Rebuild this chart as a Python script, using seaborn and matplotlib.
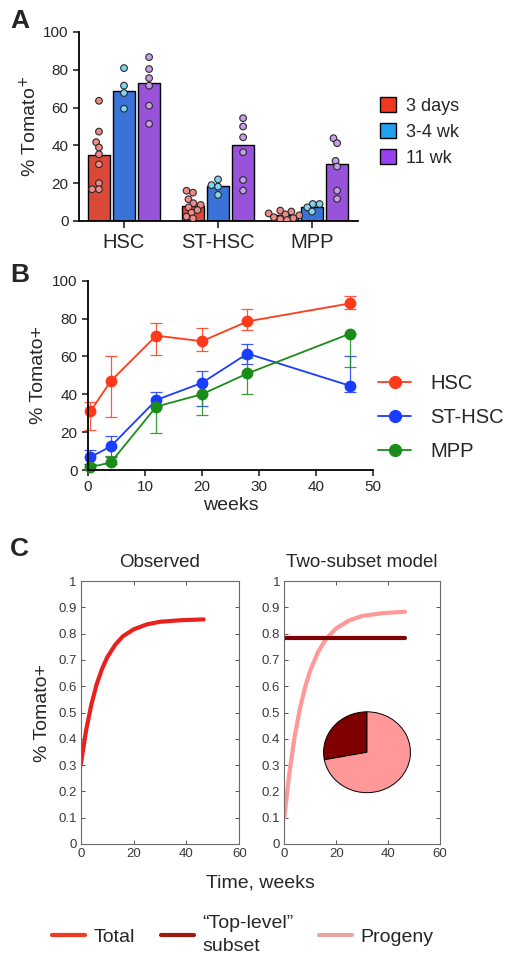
import matplotlib
matplotlib.use('Agg')
import matplotlib.pyplot as plt
import seaborn as sns
import numpy as np
import pandas as pd
from matplotlib.patches import Patch
from matplotlib.lines import Line2D

sns.set_style('ticks')
plt.rcParams['font.family'] = ['Liberation Sans', 'DejaVu Sans']

# ---- Panel A data ----
groups = ['HSC', 'ST-HSC', 'MPP']
timepoints = ['3 days', '3-4 wk', '11 wk']
bar_3d = [35, 8, 3]
bar_34 = [69, 18.5, 7.5]
bar_11 = [73, 40, 30]

hsc_3d = [63.6, 47.3, 41.7, 38.9, 35.3, 30.0, 20.0, 16.8, 16.8]
hsc_34 = [80.9, 71.6, 67.7, 59.4]
hsc_11 = [86.7, 80.4, 75.6, 71.6, 61.0, 51.4]
st_3d = [16.0, 15.0, 11.5, 9.4, 8.5, 7.2, 5.8, 4.4, 2.3, 1.4]
st_34 = [22.0, 19.0, 18.2, 13.8]
st_11 = [54.4, 50.0, 44.3, 36.4, 21.7, 16.1]
mpp_3d = [5.5, 5.0, 4.0, 3.5, 3.0, 2.0, 1.5, 1.0, 0.5]
mpp_34 = [9.0, 9.0, 7.2, 5.0]
mpp_11 = [43.8, 41.2, 31.8, 28.8, 16.1, 11.7]

# ---- Panel B data ----
weeks = [0.43, 4, 12, 20, 28, 46]
hsc_mean = [31, 47, 71, 68, 78.5, 88]
hsc_lo = [21, 28, 61, 63, 74, 85]
hsc_hi = [36, 60, 77.5, 75, 85, 92]
st_mean = [6.8, 12.5, 37, 46, 61.5, 44.5]
st_lo = [3, 7, 34, 34, 56, 41]
st_hi = [10.5, 18, 41, 52.5, 66.5, 60]
mpp_mean = [1.5, 4, 33.5, 40, 51, 72]
mpp_lo = [0.5, 3, 19.5, 29, 40, 54.6]
mpp_hi = [3, 7.5, 33.5, 40, 59, 72]

# ---- Panel C data ----
t_obs = [0, 2, 4, 6, 8, 10, 13, 16, 20, 25, 30, 38, 46.5]
total_obs = [0.30, 0.43, 0.529, 0.606, 0.664, 0.709, 0.757, 0.79, 0.816, 0.835, 0.845, 0.851, 0.854]
t_model = [0, 2, 4, 6, 8, 10, 13, 16, 20, 25, 30, 38, 46.5]
progeny = [0.10, 0.274, 0.409, 0.514, 0.596, 0.66, 0.73, 0.779, 0.82, 0.85, 0.867, 0.878, 0.883]
toplevel_t = [0, 46.5]
toplevel = [0.785, 0.785]
pie_labels = ['Top-level', 'Progeny']
pie_frac = [0.28, 0.72]

W, H = 512, 967
fig = plt.figure(figsize=(W / 100, H / 100), dpi=100)


def fr(left, top, right, bottom):
    return [left / W, 1 - bottom / H, (right - left) / W, (bottom - top) / H]


# ================= Panel A =================
bar_colors = ['#f5331c', '#1f6cf2', '#9a3cf0']
dot_colors = ['#f08a86', '#7fd6f0', '#c99ee8']
leg_colors = ['#f0381e', '#22a0f0', '#9a40f0']

bars = pd.DataFrame({
    'group': groups * 3,
    'time': [tp for tp in timepoints for _ in groups],
    'pct': bar_3d + bar_34 + bar_11,
})
dot_sets = {('HSC', '3 days'): hsc_3d, ('HSC', '3-4 wk'): hsc_34, ('HSC', '11 wk'): hsc_11,
            ('ST-HSC', '3 days'): st_3d, ('ST-HSC', '3-4 wk'): st_34, ('ST-HSC', '11 wk'): st_11,
            ('MPP', '3 days'): mpp_3d, ('MPP', '3-4 wk'): mpp_34, ('MPP', '11 wk'): mpp_11}
rows = []
for (g, tp), vals in dot_sets.items():
    for v in vals:
        rows.append({'group': g, 'time': tp, 'pct': v})
dots = pd.DataFrame(rows)

axA = fig.add_axes(fr(79, 32, 358, 221))
sns.barplot(data=bars, x='group', y='pct', hue='time', order=groups, hue_order=timepoints,
            palette=bar_colors, width=0.8, gap=0.12, edgecolor='black', linewidth=1.0,
            errorbar=None, ax=axA, legend=False)
n_before = len(axA.collections)
# swarm laid out with smaller markers, then frozen and enlarged so points may overlap (Prism-like)
sns.swarmplot(data=dots, x='group', y='pct', hue='time', order=groups, hue_order=timepoints,
              palette=dot_colors, dodge=True, size=3.8, edgecolor='#2a2a2a', linewidth=0.8,
              ax=axA, legend=False, warn_thresh=1)
fig.canvas.draw()
for coll in axA.collections[n_before:]:
    if 'draw' in coll.__dict__:
        del coll.draw
    coll.set_sizes([4.8 ** 2])
    coll.set_linewidth(0.8)
    coll.set_edgecolor('#2a2a2a')
axA.set_xlim(-0.479, 2.489)
axA.set_ylim(0, 100)
axA.set_yticks([0, 20, 40, 60, 80, 100])
axA.set_xlabel('')
axA.set_ylabel('% Tomato$^{+}$', fontsize=14, labelpad=2)
axA.tick_params(axis='y', labelsize=11, length=4, width=1.2)
axA.tick_params(axis='x', labelsize=14.5, length=5, width=1.2)
for s in ['left', 'bottom']:
    axA.spines[s].set_linewidth(1.3)
    axA.spines[s].set_color('black')
sns.despine(ax=axA)
handlesA = [Patch(facecolor=c, edgecolor='black', linewidth=1.0) for c in leg_colors]
fig.legend(handlesA, timepoints, loc='upper left', bbox_to_anchor=(373 / W, 1 - 90 / H),
           frameon=False, fontsize=13, handlelength=0.9, handleheight=0.9,
           handletextpad=0.5, labelspacing=0.45, borderaxespad=0)
fig.text(10 / W, 1 - 21 / H, 'A', fontsize=19, fontweight='bold', va='center')

# ================= Panel B =================
line_colors = ['#ff3a1a', '#1a3cff', '#1a8c1a']
names = ['HSC', 'ST-HSC', 'MPP']
lineB = pd.DataFrame({
    'week': weeks * 3,
    'pct': hsc_mean + st_mean + mpp_mean,
    'pop': [n for n in names for _ in weeks],
})
axB = fig.add_axes(fr(88, 280.7, 372.7, 470))
for mean, lo, hi, c in [(hsc_mean, hsc_lo, hsc_hi, line_colors[0]),
                        (st_mean, st_lo, st_hi, line_colors[1]),
                        (mpp_mean, mpp_lo, mpp_hi, line_colors[2])]:
    m = np.array(mean)
    axB.errorbar(weeks, mean, yerr=[m - np.array(lo), np.array(hi) - m], fmt='none',
                 ecolor=c, elinewidth=0.9, capsize=4, capthick=0.9, clip_on=False, alpha=0.85)
sns.lineplot(data=lineB, x='week', y='pct', hue='pop', hue_order=names, palette=line_colors,
             marker='o', markersize=8.5, markeredgewidth=0, linewidth=1.3, ax=axB,
             legend=False, clip_on=False)
axB.set_xlim(0, 50)
axB.set_ylim(0, 100)
axB.set_xticks([0, 10, 20, 30, 40, 50])
axB.set_yticks([0, 20, 40, 60, 80, 100])
axB.set_xlabel('weeks', fontsize=14, labelpad=2)
axB.set_ylabel('% Tomato+', fontsize=14, labelpad=4)
axB.tick_params(labelsize=11, length=4, width=1.2)
for s in ['left', 'bottom']:
    axB.spines[s].set_linewidth(1.3)
    axB.spines[s].set_color('black')
sns.despine(ax=axB)
handlesB = [Line2D([], [], color=c, marker='o', markersize=8.5, linewidth=1.3) for c in line_colors]
fig.legend(handlesB, names, loc='upper left', bbox_to_anchor=(370 / W, 1 - 366 / H),
           frameon=False, fontsize=14.5, handlelength=1.65, handletextpad=0.95,
           labelspacing=0.75, borderaxespad=0)
fig.text(10 / W, 1 - 275 / H, 'B', fontsize=19, fontweight='bold', va='center')

# ================= Panel C =================
red_c = '#e8211d'
dark_c = '#800000'
pink_c = '#ff9898'


def matlab_box(ax):
    ax.set_xlim(0, 60)
    ax.set_ylim(0, 1)
    ax.set_xticks([0, 20, 40, 60])
    ax.set_yticks(np.round(np.arange(0, 1.01, 0.1), 1))
    ax.set_yticklabels(['0', '0.1', '0.2', '0.3', '0.4', '0.5', '0.6', '0.7', '0.8', '0.9', '1'])
    ax.tick_params(direction='in', top=True, right=True, length=3, width=0.7,
                   color='#555555', labelcolor='#3a3a3a', labelsize=9.5, pad=3)
    for s in ax.spines.values():
        s.set_visible(True)
        s.set_color('#6a6a6a')
        s.set_linewidth(0.8)
    ax.set_xlabel('')
    ax.set_ylabel('')


axC1 = fig.add_axes(fr(80.7, 581, 239.3, 844))
sns.lineplot(x=t_obs, y=total_obs, color=red_c, linewidth=3.0, ax=axC1)
matlab_box(axC1)
axC1.set_title('Observed', fontsize=13.5, pad=10)
axC1.set_ylabel('% Tomato+', fontsize=14, labelpad=5)

axC2 = fig.add_axes(fr(284.3, 581, 440, 844))
sns.lineplot(x=t_model, y=progeny, color=pink_c, linewidth=3.0, ax=axC2)
sns.lineplot(x=toplevel_t, y=toplevel, color=dark_c, linewidth=3.0, ax=axC2)
matlab_box(axC2)
axC2.set_title('Two-subset model', fontsize=13.5, pad=10)

# pie inset
axPie = fig.add_axes(fr(322.7, 711, 411.3, 793.5))
axPie.pie(pie_frac, colors=[dark_c, pink_c], startangle=90, counterclock=True,
          wedgeprops=dict(edgecolor='black', linewidth=0.7))
axPie.set_aspect('auto')
axPie.set_xlim(-1.02, 1.02)
axPie.set_ylim(-1.02, 1.02)
axPie.axis('off')

fig.text(260 / W, 1 - 883 / H, 'Time, weeks', fontsize=14, ha='center', va='center')
fig.text(10 / W, 1 - 549 / H, 'C', fontsize=19, fontweight='bold', va='center')

handlesC = [Line2D([], [], color='#f03a20', linewidth=3.0),
            Line2D([], [], color='#a01810', linewidth=3.0),
            Line2D([], [], color='#e8a6a2', linewidth=3.0)]
legC = fig.legend(handlesC, ['Total', '\u201cTop-level\u201d\nsubset', 'Progeny'], loc='center',
                  bbox_to_anchor=(243 / W, 1 - 935 / H), ncol=3, frameon=False, fontsize=14,
                  handlelength=1.7, handletextpad=0.45, columnspacing=1.3, borderaxespad=0)
legC.get_texts()[1].set_linespacing(1.5)

fig.savefig('out.png', dpi=100)
